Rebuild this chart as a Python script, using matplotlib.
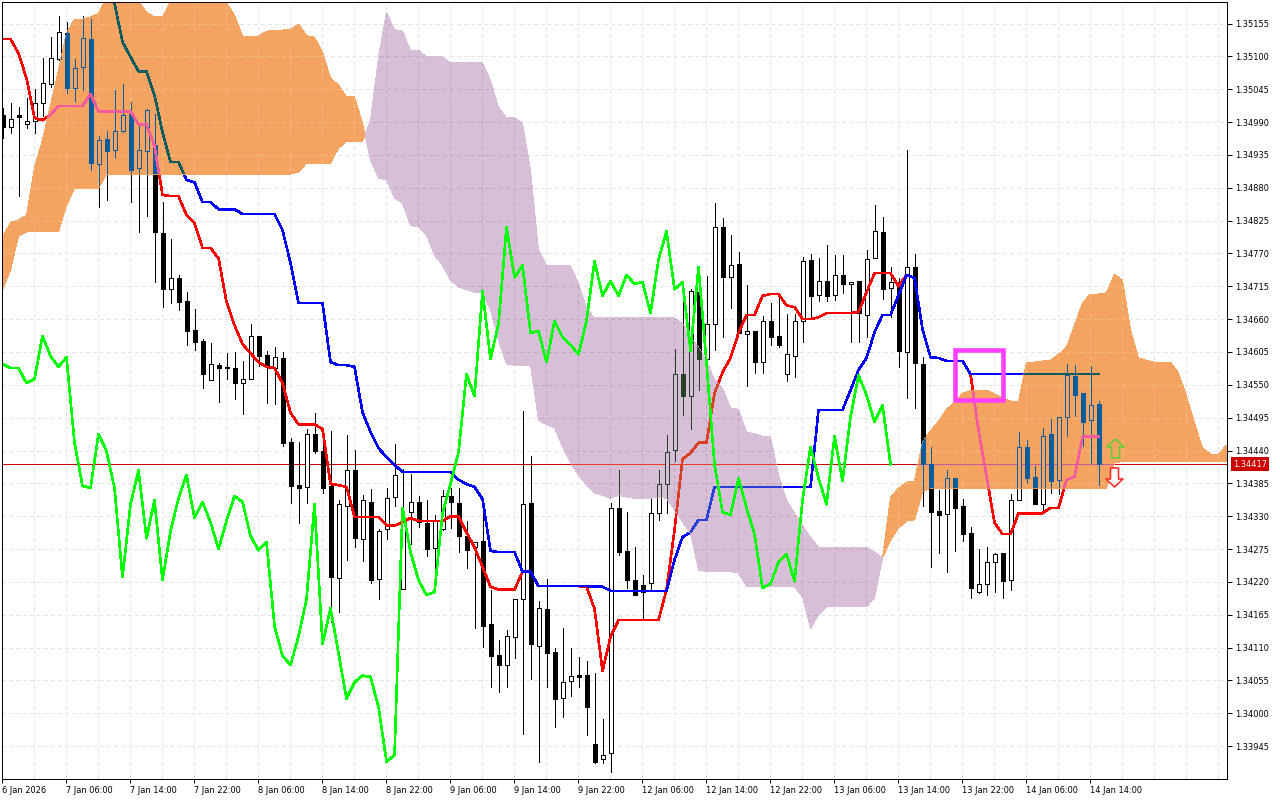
import numpy as np
import matplotlib
matplotlib.use("Agg")
import matplotlib.pyplot as plt
from matplotlib.path import Path
from matplotlib.patches import Rectangle
from matplotlib.transforms import blended_transform_factory

# All prices are in points (1e-5)
opens = [135002,134981,135002,134986,134991,135022,135053,135095,135139,135047,135082,135129,134919,134961,134943,134975,135003,134913,134941,134951,
134804,134710,134729,134690,134642,134623,134558,134583,134580,134578,134553,134560,134632,134600,134578,134595,134454,134382,134379,134468,
134439,134381,134227,134347,134407,134292,134354,134225,134309,134362,134208,134337,134354,134319,134277,134309,134364,134352,134297,134278,
134289,134150,134098,134081,134128,134191,134352,134113,134175,134103,134026,134054,134064,134064,133949,133924,133934,134344,134272,134223,
134215,134218,134335,134384,134441,134568,134531,134705,134593,134652,134814,134730,134752,134635,134640,134588,134657,134632,134568,134598,
134657,134759,134700,134724,134700,134734,134719,134724,134667,134762,134806,134712,134722,134605,134747,134585,134417,134339,134334,134394,
134347,134302,134203,134217,134253,134268,134223,134357,134446,134396,134350,134468,134391,134496,134565,134536,134491,134518]
closes = [134981,134995,134998,134991,135022,135055,135097,135140,135047,135080,135130,134921,134960,134941,134975,135002,134909,134943,135010,134806,
134710,134729,134689,134640,134622,134568,134585,134578,134578,134553,134560,134632,134598,134580,134596,134453,134381,134377,134468,134439,
134377,134228,134350,134407,134293,134357,134223,134305,134360,134399,134327,134354,134320,134275,134322,134364,134354,134297,134273,134287,
134146,134096,134081,134129,134191,134350,134116,134176,134101,134024,134052,134063,134061,134011,133919,133930,134344,134270,134223,134198,
134203,134335,134384,134437,134568,134531,134707,134593,134652,134814,134730,134750,134637,134640,134588,134657,134630,134617,134601,134657,
134757,134699,134724,134699,134734,134719,134722,134670,134760,134807,134710,134722,134607,134747,134586,134417,134337,134332,134394,134344,
134300,134210,134217,134253,134267,134221,134357,134446,134394,134350,134464,134389,134496,134566,134533,134488,134516,134417]
highs = [135013,135022,135015,135030,135045,135097,135132,135167,135157,135095,135167,135162,134966,134975,135043,135053,135023,134986,135012,135003,
134856,134794,134734,134705,134677,134627,134620,134586,134603,134605,134590,134652,134632,134607,134613,134605,134461,134454,134476,134503,
134463,134473,134357,134466,134441,134365,134376,134309,134377,134451,134409,134401,134364,134357,134332,134374,134377,134377,134322,134287,
134340,134207,134123,134140,134191,134506,134431,134188,134225,134109,134143,134109,134094,134088,134068,133991,134352,134407,134337,134278,
134232,134360,134407,134466,134610,134690,134710,134725,134732,134854,134829,134801,134772,134717,134640,134665,134687,134700,134668,134668,
134764,134769,134762,134784,134767,134767,134722,134724,134776,134851,134831,134747,134729,134943,134769,134596,134446,134374,134407,134394,
134359,134312,134275,134278,134268,134268,134367,134471,134458,134414,134478,134493,134496,134585,134583,134536,134581,134523]
lows = [134963,134971,134866,134980,134971,135000,135048,135094,135038,135025,135043,134909,134847,134859,134931,134973,134856,134806,134832,134722,
134680,134687,134675,134617,134608,134545,134558,134521,134560,134526,134501,134560,134581,134519,134518,134448,134352,134319,134352,134436,
134369,134153,134170,134257,134278,134255,134218,134191,134292,134347,134208,134283,134312,134263,134240,134307,134310,134270,134243,134143,
134111,134044,134036,134044,134093,133965,134058,133919,134044,133977,133994,134029,134044,133964,133917,133917,133902,134265,134210,134198,
134158,134207,134324,134335,134422,134499,134476,134541,134593,134608,134630,134678,134637,134548,134570,134570,134617,134613,134556,134563,
134622,134663,134690,134690,134692,134704,134622,134622,134630,134762,134694,134663,134580,134528,134511,134347,134245,134268,134237,134272,
134288,134193,134201,134198,134203,134193,134207,134357,134386,134350,134340,134369,134367,134464,134498,134448,134419,134382]
tenkan = [135129,135129,135105,135063,134997,134993,135002,135017,135017,135017,135017,135037,135008,135008,135008,135008,135008,134986,134986,134950,
134868,134866,134866,134834,134821,134779,134779,134762,134689,134650,134618,134603,134588,134580,134578,134553,134503,134484,134484,134484,
134476,134384,134382,134379,134329,134329,134329,134329,134315,134314,134320,134327,134322,134322,134322,134322,134330,134330,134303,134278,
134245,134212,134207,134207,134207,134237,134237,134213,134213,134213,134213,134213,134213,134212,134175,134071,134128,134156,134156,134156,
134156,134156,134156,134207,134307,134426,134436,134453,134453,134536,134571,134595,134637,134667,134667,134699,134702,134702,134683,134680,
134660,134660,134663,134670,134670,134670,134670,134672,134705,134737,134737,134737,134715,134734,134729,134643,134596,134595,134590,134590,
134590,134568,134474,134396,134319,134300,134300,134335,134335,134335,134335,134344,134344,134391,134396,134463,134463,134463]
kijun = [np.nan]*13 + [135253,135189,135124,135099,135075,135075,135035,
134973,134923,134923,134893,134889,134856,134856,134844,134844,134844,134836,134836,134836,134836,134836,134809,134754,134687,134687,134687,
134687,134588,134583,134583,134580,134504,134471,134444,134429,134416,134404,134404,134404,134404,134404,134404,134404,134391,134384,134379,
134359,134272,134270,134270,134270,134237,134237,134213,134213,134213,134213,134213,134213,134213,134212,134212,134205,134205,134205,134205,
134205,134205,134205,134205,134257,134295,134303,134324,134324,134379,134379,134379,134379,134379,134379,134379,134379,134379,134379,134379,
134379,134379,134508,134508,134508,134508,134541,134575,134595,134638,134667,134667,134700,134734,134729,134643,134596,134595,134590,134590,
134590,134568,134568,134568,134568,134568,134568,134568,134568,134568,134568,134568,134568,134568,134568,134568,134568,134568]
chikou = [134585,134578,134578,134553,134560,134632,134598,134580,134596,134453,134381,134377,134468,134439,134377,134228,134350,134407,134293,134357,
134223,134305,134360,134399,134327,134354,134320,134275,134322,134364,134354,134297,134273,134287,134146,134096,134081,134129,134191,134350,
134116,134176,134101,134024,134052,134063,134061,134011,133919,133930,134344,134270,134223,134198,134203,134335,134384,134437,134568,134531,
134707,134593,134652,134814,134730,134750,134637,134640,134588,134657,134630,134617,134601,134657,134757,134699,134724,134699,134734,134719,
134722,134670,134760,134807,134710,134722,134607,134747,134586,134417,134337,134332,134394,134344,134300,134210,134217,134253,134267,134221,
134357,134446,134394,134350,134464,134389,134496,134566,134533,134488,134516,134417]
span_a = [134797,134822,134826,134834,134914,134960,135018,135077,135139,135162,135162,135166,135172,135199,135227,135261,135244,135192,135174,135166,
135166,135191,135227,135227,135227,135227,135227,135227,135189,135169,135134,135134,135134,135142,135144,135144,135145,135154,135135,135132,
135107,135063,135052,135032,135032,134988,134926,134896,134893,134863,134854,134817,134814,134801,134767,134750,134725,134714,134709,134705,
134704,134675,134625,134585,134583,134583,134583,134491,134483,134478,134446,134419,134399,134382,134369,134365,134360,134365,134362,134360,
134360,134360,134362,134360,134340,134320,134302,134240,134237,134237,134237,134237,134235,134212,134212,134212,134212,134212,134212,134212,
134195,134141,134165,134178,134178,134178,134178,134178,134178,134193,134260,134362,134377,134387,134389,134454,134473,134489,134509,134521,
134536,134540,134541,134541,134535,134528,134523,134521,134588,134588,134590,134591,134601,134613,134650,134687,134702,134702,134704,134735,
134725,134642,134595,134591,134588,134588,134588,134570,134531,134486,134444,134434,134434,134449]
span_b = [134709,134742,134799,134806,134806,134806,134806,134806,134851,134878,134878,134878,134879,134903,134903,134903,134903,134903,134903,134903,
134903,134903,134903,134903,134903,134903,134903,134903,134903,134903,134903,134903,134903,134903,134903,134903,134903,134906,134921,134921,
134921,134921,134946,134958,134958,134958,134993,135099,135174,135145,135142,135110,135110,135099,135099,135099,135089,135089,135089,135089,
135089,135060,135015,134997,134997,134988,134909,134776,134750,134750,134749,134749,134720,134678,134662,134662,134662,134662,134662,134662,
134662,134662,134662,134662,134662,134653,134630,134613,134591,134558,134545,134511,134509,134471,134468,134464,134463,134399,134357,134335,
134314,134295,134278,134278,134278,134278,134278,134278,134278,134270,134260,134290,134310,134322,134324,134371,134377,134377,134377,134377,
134377,134377,134377,134377,134377,134377,134377,134377,134377,134377,134377,134377,134377,134377,134377,134377,134377,134377,134377,134419,
134422,134422,134422,134422,134422,134422,134422,134422,134422,134422,134422,134422,134422,134422]
price_ticks = [135155,135100,135045,134990,134935,134880,134825,134770,134715,134660,134605,134550,134495,134440,134385,134330,134275,134220,134165,134110,134055,134000,133945]
time_labels = ["6 Jan 2026","7 Jan 06:00","7 Jan 14:00","7 Jan 22:00","8 Jan 06:00","8 Jan 14:00","8 Jan 22:00","9 Jan 06:00","9 Jan 14:00","9 Jan 22:00",
"12 Jan 06:00","12 Jan 14:00","12 Jan 22:00","13 Jan 06:00","13 Jan 14:00","13 Jan 22:00","14 Jan 06:00","14 Jan 14:00"]
last_price = 134417
up_arrow = (139.0, 134445)
down_arrow = (138.9, 134395)
box_bars = (119.1, 125.0)
box_prices = (134525, 134609)

SC = 1e5
o, c, h, l = [np.array(a, float) / SC for a in (opens, closes, highs, lows)]
ten, kij, chi = [np.array(a, float) / SC for a in (tenkan, kijun, chikou)]
A, B = np.array(span_a, float) / SC, np.array(span_b, float) / SC
idx = np.arange(len(o))
cx = np.arange(len(A))

W, H = 1280, 800
PX = 72 / 100
fig = plt.figure(figsize=(W / 100, H / 100), dpi=100, facecolor="white")
ax = fig.add_axes([2 / W, (H - 779) / H, 1225 / W, 777 / H], facecolor="white")
XL = (-0.0625, 153.06)
YL = (133890 / SC, 135191 / SC)

ORANGE = (244, 164, 96)
PURPLE = (216, 191, 216)

def col(hexs, cloud=None):
    r = [int(hexs[i:i + 2], 16) for i in (1, 3, 5)]
    if cloud is not None:
        r = [v ^ (255 - k) for v, k in zip(r, cloud)]
    return tuple(v / 255 for v in r)

grid_x = np.arange(4, 154, 4)
grid_y = np.array(price_ticks) / SC

def layer(cloud, clip, z):
    arts = []
    g = col("#E5E5E5", cloud)
    arts.append(ax.vlines(grid_x - 0.06, YL[0], YL[1], colors=[g], linewidth=PX, linestyles=(0, (4, 3)), zorder=z, antialiased=False))
    arts.append(ax.hlines(grid_y, XL[0], XL[1], colors=[g], linewidth=PX, linestyles=(0, (4, 3)), zorder=z, antialiased=False))
    arts.append(ax.axhline(last_price / SC, color=col("#CC0000", cloud), lw=PX * 0.8, zorder=z + .1, antialiased=False))
    dn = col("#000000", cloud)
    arts.append(ax.vlines(idx, l, h, colors=[dn], linewidth=PX, zorder=z + .2, antialiased=False))
    faces = [col("#FFFFFF", cloud) if cl > op else dn for op, cl in zip(o, c)]
    bars = ax.bar(idx, np.abs(c - o), bottom=np.minimum(o, c), width=0.5, color=faces,
                  edgecolor=[dn], linewidth=PX, zorder=z + .3, antialiased=False)
    arts.extend(bars.patches)
    arts.extend(ax.plot(idx, ten, color=col("#FF0000", cloud), lw=PX * 1.6, zorder=z + .4, antialiased=False))
    arts.extend(ax.plot(idx, kij, color=col("#0000FF", cloud), lw=PX * 1.6, zorder=z + .5, antialiased=False))
    if clip is not None:
        for a in arts:
            a.set_clip_path(clip, ax.transData)

layer(None, None, 2)

f_or = ax.fill_between(cx, A, B, where=A >= B, interpolate=True, facecolor=np.array(ORANGE) / 255, lw=0, zorder=3, antialiased=False)
f_pu = ax.fill_between(cx, A, B, where=A <= B, interpolate=True, facecolor=np.array(PURPLE) / 255, lw=0, zorder=3, antialiased=False)
clip_or = Path.make_compound_path(*f_or.get_paths())
clip_pu = Path.make_compound_path(*f_pu.get_paths())
layer(ORANGE, clip_or, 4)
layer(PURPLE, clip_pu, 5)

ax.plot(np.arange(len(chi)), chi, color="#00FF00", lw=PX * 1.6, zorder=7, antialiased=False)

ax.add_patch(Rectangle((box_bars[0], box_prices[0] / SC), box_bars[1] - box_bars[0], (box_prices[1] - box_prices[0]) / SC,
                       fill=False, ec="#FF40FF", lw=PX * 4.6, joinstyle="miter", zorder=8))

arrow = np.array([(0, 9.5), (8.5, 1.5), (4, 1.5), (4, -9.5), (-4, -9.5), (-4, 1.5), (-8.5, 1.5), (0, 9.5)])
up_m = Path(arrow, closed=True)
dn_m = Path(arrow * [1, -1], closed=True)
ax.plot([up_arrow[0]], [up_arrow[1] / SC], marker=up_m, ms=19 * PX, mfc="none", mec="#66CC33", mew=PX * 1.6, ls="none", zorder=9)
ax.plot([down_arrow[0]], [down_arrow[1] / SC], marker=dn_m, ms=19 * PX, mfc="white", mec="#FF2A2A", mew=PX * 1.6, ls="none", zorder=9)

ax.set_xlim(*XL)
ax.set_ylim(*YL)
ax.yaxis.tick_right()
ax.set_yticks(grid_y, [f"{t / SC:.5f}" for t in price_ticks])
ax.set_xticks(np.arange(len(time_labels)) * 8 - 0.06, time_labels, ha="left")
FONT = "DejaVu Sans"
FS = 8.3 * PX
ax.tick_params(axis="y", length=5 * PX, width=PX, pad=3 * PX, labelsize=FS, labelfontfamily=FONT)
ax.tick_params(axis="x", length=4 * PX, width=PX, pad=3 * PX, labelsize=FS, labelfontfamily=FONT)
for s in ax.spines.values():
    s.set_linewidth(PX)
    s.set_zorder(20)

tr = blended_transform_factory(ax.transAxes, ax.transData)
ax.text(1 + 6 / 1225, last_price / SC, f"{last_price / SC:.5f}", transform=tr, color="white", fontsize=FS,
        family=FONT, va="center", ha="left", clip_on=False, zorder=30,
        bbox=dict(facecolor="#CC0000", edgecolor="none", boxstyle="square,pad=0.3"))

fig.savefig("out.png", dpi=100)
